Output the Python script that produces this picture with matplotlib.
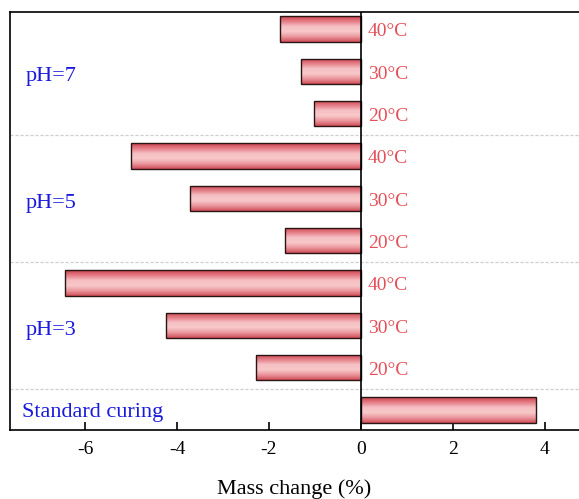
import numpy as np
import matplotlib.pyplot as plt
from matplotlib.colors import LinearSegmentedColormap

plt.rcParams['font.family'] = ['Liberation Serif', 'DejaVu Serif']
plt.rcParams['axes.unicode_minus'] = False

# mass change (%) from bottom to top
groups = ['Standard curing', 'pH=3', 'pH=5', 'pH=7']
temps = ['20°C', '30°C', '40°C']
std_value = 3.80
ph3 = [-2.28, -4.24, -6.43]
ph5 = [-1.65, -3.72, -5.00]
ph7 = [-1.02, -1.30, -1.76]

values = [std_value] + ph3 + ph5 + ph7
ypos = np.arange(len(values))

fig = plt.figure(figsize=(5.79, 4.99), dpi=100)
ax = fig.add_axes([0.0173, 0.1383, 0.9827, 0.976 - 0.1383])

bar_h = 0.6
bars = ax.barh(ypos, values, height=bar_h, color='none', edgecolor='#2a1515',
               linewidth=1.0, zorder=3)

# vertical shading inside each bar: darker rim, light pink centre
cmap = LinearSegmentedColormap.from_list(
    'bar', ['#c93f4c', '#e47c85', '#f6c0c3', '#f8c9ca', '#ea959b', '#cf4b56'])
grad = np.linspace(0, 1, 256).reshape(-1, 1)
for b, v, y in zip(bars, values, ypos):
    x0, x1 = sorted([0, v])
    im = ax.imshow(grad, cmap=cmap, aspect='auto', origin='upper',
                   extent=[x0, x1, y - bar_h / 2, y + bar_h / 2], zorder=2)
    im.set_clip_path(b)

ax.set_xlim(-7.63, 4.74)
ax.set_ylim(-0.47, 9.40)
ax.axvline(0, color='black', linewidth=1.2, zorder=4)

for ys in [0.5, 3.5, 6.5]:
    ax.axhline(ys, color='#cfcfcf', linestyle=(0, (2.5, 1.5)), linewidth=0.9, zorder=1)

# temperature labels beside the zero line
for i, y in enumerate(ypos[1:]):
    ax.text(0.15, y - 0.02, temps[i % 3], color='#e4505a', fontsize=14,
            va='center_baseline', ha='left')

# group labels on the left
ax.text(-7.37, 0.0, groups[0], color='#1a1adc', fontsize=16,
        va='center_baseline', ha='left')
for g, yc in zip(groups[1:], [2, 5, 8]):
    ax.text(-7.30, yc - 0.07, g, color='#1a1adc', fontsize=16,
            va='center_baseline', ha='left')

ax.set_xticks([-6, -4, -2, 0, 2, 4])
ax.set_yticks([])
ax.tick_params(axis='x', direction='in', length=6, width=1.2, labelsize=14, pad=8)
ax.set_xlabel('Mass change (%)', fontsize=16, labelpad=15)
ax.spines['right'].set_visible(False)
for s in ['left', 'top', 'bottom']:
    ax.spines[s].set_linewidth(1.2)

fig.savefig('out.png', dpi=100)
